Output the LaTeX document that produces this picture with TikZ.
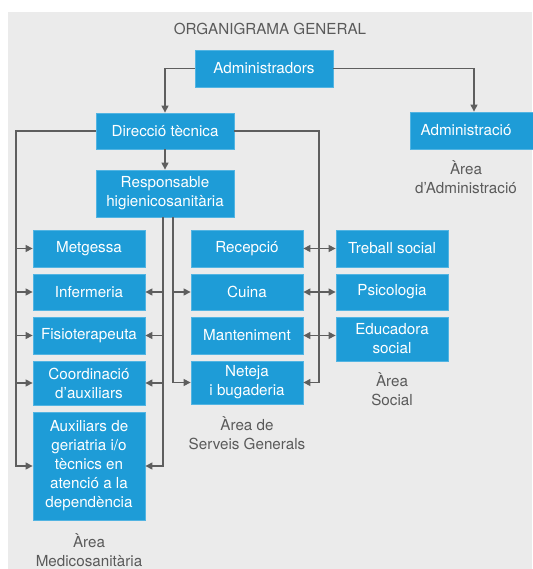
\documentclass[tikz,border=0pt]{standalone}
\usepackage{fontspec}
\setmainfont{TeX Gyre Heros}
\usetikzlibrary{arrows.meta}
\definecolor{boxblue}{HTML}{1E9CD7}
\definecolor{boxedge}{HTML}{52B4E2}
\definecolor{panelgray}{HTML}{EBEBEB}
\definecolor{wiregray}{HTML}{5E5E5E}
\definecolor{captiongray}{HTML}{5A5A5A}

\begin{document}
\begin{tikzpicture}[x=1pt,y=-1pt,
  unit/.style={fill=boxblue, draw=boxedge, line width=0.8pt, text=white,
    font=\fontsize{15.2}{19}\selectfont, align=center, inner sep=0pt},
  wide/.style={unit, minimum width=138pt},
  narrow/.style={unit, minimum width=112pt},
  area/.style={text=captiongray, font=\fontsize{15.2}{19}\selectfont,
    align=center, inner sep=0pt},
  wire/.style={draw=wiregray, line width=1.2pt},
  tip/.style={wire, -{Triangle[length=7pt,width=7pt]}},
  both/.style={wire, {Triangle[length=7pt,width=7pt]}-{Triangle[length=7pt,width=7pt]}},
]
\useasboundingbox (0,0) rectangle (532,569);
\fill[panelgray] (8,12) rectangle (532,569);

% title
\node[area] (title) at (270,29) {ORGANIGRAMA GENERAL};

% top levels
\node[wide, minimum height=37pt] (adm) at (264,68.5) {Administradors};
\node[wide, minimum height=36pt] (dir) at (165,131) {Direcció tècnica};
\node[unit, minimum width=128pt, minimum height=37pt] (admin) at (474,130.5)
  {Administració\hspace*{16pt}};
\node[wide, minimum height=47pt] (resp) at (165,193.5) {Responsable\\higienicosanitària};

% medical column
\node[narrow, minimum height=37pt] (met) at (89,248.5) {Metgessa};
\node[narrow, minimum height=36pt] (inf) at (89,292) {Infermeria};
\node[narrow, minimum height=37pt] (fis) at (89,335.5) {Fisioterapeuta};
\node[narrow, minimum height=44pt] (coo) at (89,383) {Coordinació\\d'auxiliars};
\node[narrow, minimum height=108pt] (aux) at (89,466)
  {Auxiliars de\\geriatria i/o\\tècnics en\\atenció a la\\dependència};

% general services column
\node[narrow, minimum height=37pt] (rec) at (247,248.5) {Recepció};
\node[narrow, minimum height=36pt] (cui) at (247,292) {Cuina};
\node[narrow, minimum height=37pt] (man) at (247,335.5) {Manteniment};
\node[narrow, minimum height=43pt] (net) at (247,382.5) {Neteja\\i bugaderia};

% social column
\node[narrow, minimum height=37pt] (tre) at (392,248.5) {Treball social};
\node[narrow, minimum height=36pt] (psi) at (392,292) {Psicologia};
\node[narrow, minimum height=44pt] (edu) at (392,339) {Educadora\\social};

% area captions
\node[area] (capadm) at (466,177.5) {Àrea\\d'Administració};
\node[area] (capsoc) at (392,389.5) {Àrea\\Social};
\node[area] (capserv) at (247,433.5) {Àrea de\\Serveis Generals};
\node[area] (capmed) at (89,550) {Àrea\\Medicosanitària};

% rails
\coordinate (lrail) at (16,131);
\coordinate (rrail) at (319,131);
\coordinate (mrail) at (163,217);
\coordinate (srail) at (173,217);

% connectors from the top
\draw[tip] (adm.west) -| (dir.north);
\draw[tip] (adm.east) -| (admin.north);
\draw[tip] (dir.south) -- (resp.north);

% left rail from Direcció tècnica
\draw[tip] (dir.west) -- (lrail) |- (aux.west);
\foreach \n in {met,inf,fis,coo}
  \draw[tip] (\n.west -| lrail) -- (\n.west);

% right rail from Direcció tècnica
\draw[tip] (dir.east) -- (rrail) |- (net.east);
\draw[both] (rec.east) -- (tre.west);
\draw[both] (cui.east) -- (psi.west);
\draw[both] (man.east) -- (edu.west |- man.east);

% rails from Responsable higienicosanitària
\draw[tip] (mrail) |- (aux.east);
\foreach \n in {inf,fis,coo}
  \draw[tip] (\n.east -| mrail) -- (\n.east);
\draw[tip] (srail) |- (net.west);
\draw[tip] (cui.west -| srail) -- (cui.west);
\end{tikzpicture}
\end{document}
